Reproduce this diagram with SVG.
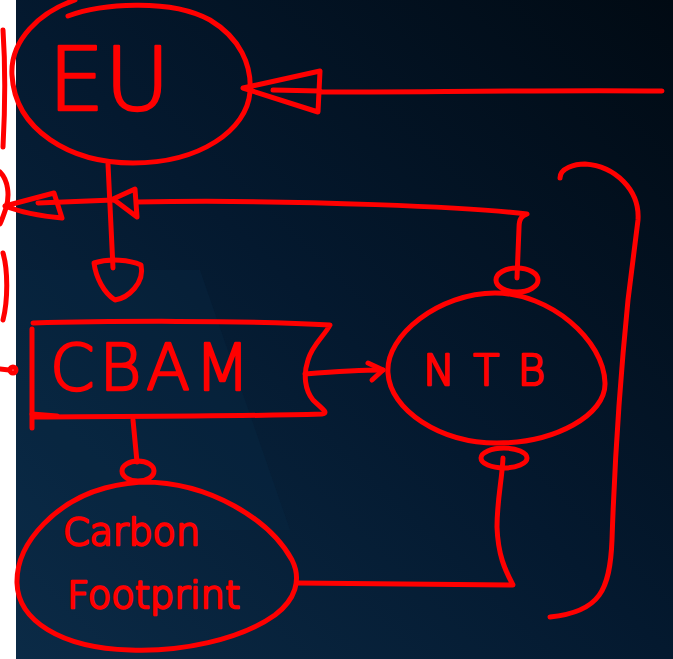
<svg xmlns="http://www.w3.org/2000/svg" width="673" height="659" viewBox="0 0 673 659">
<defs>
<linearGradient id="bg" x1="0" y1="1" x2="1" y2="0">
<stop offset="0" stop-color="#0b2b47"/>
<stop offset="0.5" stop-color="#04192f"/>
<stop offset="1" stop-color="#010a13"/>
</linearGradient>
<style>
.ink{fill:none;stroke:#ff0000;stroke-width:5;stroke-linecap:round;stroke-linejoin:round}
.lbl{fill:#ff0000;stroke:#ff0000;stroke-width:2.5;stroke-linejoin:round;font-family:"DejaVu Sans","Liberation Sans",sans-serif;font-weight:200}
</style>
</defs>
<rect width="673" height="659" fill="url(#bg)"/>
<polygon points="16,270 200,270 290,530 16,530" fill="#0c3350" opacity="0.2"/>
<rect x="0" y="0" width="16" height="659" fill="#ffffff"/>
<g id="margin-marks">
<path class="ink" d="M3,30 C5,60 5,110 3,147"/>
<path class="ink" d="M0,172 C8,180 10,195 6,208 C4,214 2,220 0,224"/>
<path class="ink" d="M3,253 C8,270 8,300 3,320"/>
<path class="ink" d="M0,369 L9,370"/>
<circle class="ink" cx="13" cy="370" r="3"/>
</g>
<g id="connectors">
<path class="ink" d="M662,91 C550,90 420,92 320,92"/>
<path class="ink" d="M243,88 L320,71 L318,112 Z"/>
<path class="ink" d="M320,91 L273,90"/>
<path class="ink" d="M108,164 L113,268"/>
<path class="ink" d="M94,263 C110,258 130,260 141,265 C145,283 128,298 115,300 C104,293 96,278 94,263 Z"/>
<path class="ink" d="M517,278 L519,228 C519,218 522,216 527,214 C480,208 300,199 137,202"/>
<path class="ink" d="M113,199 L135,189 L137,217 Z"/>
<path class="ink" d="M113,200 L38,203"/>
<path class="ink" d="M5,206 L54,193 L62,218 C40,216 20,212 5,206 Z"/>
<ellipse class="ink" cx="517" cy="280" rx="21" ry="12"/>
<path class="ink" d="M305,374 C330,372 360,370 383,370"/>
<path class="ink" d="M368,363 L383,370 L372,380"/>
<path class="ink" d="M133,420 L137,462"/>
<ellipse class="ink" cx="138" cy="471" rx="16" ry="10"/>
<path class="ink" d="M297,583 C380,584 450,585 513,585 C505,570 498,555 497,527 C497,500 502,480 503,458"/>
<ellipse class="ink" cx="504" cy="458" rx="23" ry="10"/>
</g>
<g id="bracket">
<path class="ink" d="M560,178 C560,168 575,164 585,164 C615,166 640,190 638,220 L628,300 C620,380 615,450 612,540 C610,590 600,612 550,617"/>
</g>
<g id="node-eu">
<path class="ink" d="M68,16 C100,4 170,-2 210,20 C240,38 252,65 250,92 C247,130 200,163 133,163 C70,163 15,130 12,75 C10,40 40,12 75,0"/>
<text class="lbl" x="48" y="110" font-size="88" textLength="122" lengthAdjust="spacingAndGlyphs">EU</text>
</g>
<g id="node-cbam">
<path class="ink" d="M33,323 C100,321 250,320 330,325 C325,335 312,345 308,360 C303,375 305,390 313,400 C320,407 330,413 322,414 C220,417 100,416 33,417"/>
<path class="ink" d="M32,329 L32,428"/>
<path class="ink" d="M32,414 L57,416"/>
<text class="lbl" x="50" y="390" font-size="64" textLength="200" lengthAdjust="spacing">CBAM</text>
</g>
<g id="node-ntb">
<path class="ink" d="M495,293 C440,293 385,335 388,373 C390,410 440,443 497,443 C555,443 606,415 605,383 C604,340 550,293 495,293 Z"/>
<text class="lbl" x="423" y="385" font-size="42" textLength="122" lengthAdjust="spacing">NTB</text>
</g>
<g id="node-carbon">
<path class="ink" d="M143,482 C210,482 270,520 292,560 C302,580 295,600 275,615 C240,640 180,652 130,650 C60,648 18,620 17,583 C16,540 60,500 105,488 C120,484 135,482 150,482"/>
<text class="lbl" x="63" y="545" font-size="38" textLength="137" lengthAdjust="spacingAndGlyphs">Carbon</text>
<text class="lbl" x="67" y="608" font-size="38" textLength="173" lengthAdjust="spacingAndGlyphs">Footprint</text>
</g>
</svg>
